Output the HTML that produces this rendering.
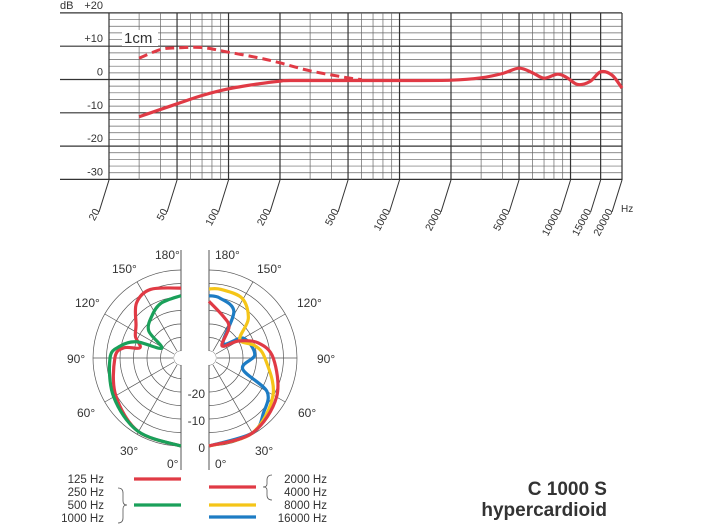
<!DOCTYPE html>
<html><head><meta charset="utf-8"><style>
body{margin:0;background:#fff;}
svg{display:block;font-family:"Liberation Sans",Arial,sans-serif;}
</style></head><body>
<svg id="s" width="706" height="530" viewBox="0 0 706 530">
<g id="freq"></g>
<g id="polar"></g>
<g id="legend"></g>
<text x="607" y="495" text-anchor="end" font-size="19" font-weight="bold" fill="#333">C 1000 S</text>
<text x="607" y="516" text-anchor="end" font-size="19" font-weight="bold" fill="#333">hypercardioid</text>
</svg>
<script>
// ---- frequency response data ----
const freqTicks=[20,50,100,200,500,1000,2000,5000,10000,15000,20000];
const minorFreqs=[30,40,60,70,80,90,300,400,600,700,800,900,3000,4000,6000,7000,8000,9000];
const dbTicks=[20,10,0,-10,-20,-30];
const dbTickLabels=["+20","+10","0","-10","-20","-30"];
const solidFreqs=[30,50,70,100,150,200,230,500,1000,2000,3000,4000,5000,6000,7000,8400,9500,11000,13000,15000,17500,20000];
const solidDb=[-11.2,-7.3,-4.8,-2.8,-1.3,-0.5,-0.3,-0.3,-0.3,-0.2,0.5,1.8,3.4,2.0,0.4,1.6,0.6,-1.5,-0.6,2.3,1.3,-2.6];
const dashFreqs=[30,40,50,70,100,150,200,300,500,600];
const dashDb=[6.4,9.0,9.5,9.6,8.2,6.5,5.0,2.6,0.5,0];
// ---- polar data (angle deg, dB) ----
const red125A=[0,30,60,90,100,104,115,126,141,156,180];
const red125D=[0,-1.1,-4.7,-8.1,-11,-16.9,-14,-12,-6.4,-4.8,-6.7];
const green250A=[0,30,60,90,101,110,117,130,145,160,180];
const green250D=[0,-1.1,-3.8,-6.3,-9.6,-15,-24.6,-17,-13.7,-11,-9.5];
const red2kA=[0,30,60,90,107,120,133,147,161,180];
const red2kD=[0,-0.5,-3.7,-8.8,-13.5,-20,-26,-19,-16.3,-11.6];
const yel8kA=[0,30,60,90,105,121,135,151,170,180];
const yel8kD=[0,-0.5,-5.2,-11.9,-15,-19.3,-12,-7.3,-6.8,-7];
const blue16kA=[0,30,45,60,72,94,120,136,152,170,180];
const blue16kD=[0,-0.5,-4,-7.8,-19.5,-15.6,-17.9,-25,-13,-10,-9.5];

const NS="http://www.w3.org/2000/svg";
function mk(p,t,a,txt){const e=document.createElementNS(NS,t);for(const k in a)e.setAttribute(k,a[k]);if(txt!==undefined)e.textContent=txt;p.appendChild(e);return e;}
const X=f=>109+171*Math.log10(f/20);
const Y=d=>79.5-3.33*d;
const F=document.getElementById('freq');
for(let d=-30;d<=20;d+=2){const major=d%10===0;
 const l=mk(F,'line',{x1:major?60:109,x2:622,y1:Y(d),y2:Y(d),stroke:major?'#333':'#666','stroke-width':major?1.2:0.7});
 
 }
minorFreqs.forEach(f=>{const l=mk(F,'line',{x1:X(f),x2:X(f),y1:13,y2:180,stroke:'#666','stroke-width':0.7});
 
 });
freqTicks.forEach(f=>{const x=X(f);
 const l=mk(F,'line',{x1:x,x2:x,y1:13,y2:180,stroke:'#333','stroke-width':1.2});
 
 
 const s=mk(F,'line',{x1:x,x2:x-10,y1:180,y2:212,stroke:'#333','stroke-width':1});
 
 
 const t=mk(F,'text',{x:x-9,y:211,'font-size':10.5,fill:'#333','text-anchor':'end',transform:`rotate(-62 ${x-9} 211)`},String(f));
 
 });
dbTicks.forEach((d,i)=>{const t=mk(F,'text',{x:103,y:Y(d)-4,'font-size':11,fill:'#333','text-anchor':'end'},dbTickLabels[i]);
 
 });
let t=mk(F,'text',{x:60,y:9,'font-size':11,fill:'#333'},'dB');


t=mk(F,'text',{x:621,y:212,'font-size':10,fill:'#333'},'Hz');


let r=mk(F,'rect',{x:122,y:30,width:36,height:16,fill:'#fff'});


t=mk(F,'text',{x:124,y:43,'font-size':15,fill:'#333'},'1cm');


function cr(pts){let d=`M${pts[0][0]},${pts[0][1]}`;for(let i=0;i<pts.length-1;i++){const p0=pts[i-1]||pts[i],p1=pts[i],p2=pts[i+1],p3=pts[i+2]||p2;
 d+=` C${p1[0]+(p2[0]-p0[0])/6},${p1[1]+(p2[1]-p0[1])/6} ${p2[0]-(p3[0]-p1[0])/6},${p2[1]-(p3[1]-p1[1])/6} ${p2[0]},${p2[1]}`;}return d;}
let p=mk(F,'path',{d:cr(dashFreqs.map((f,i)=>[X(f),Y(dashDb[i])])),fill:'none',stroke:'#e03a45','stroke-width':3,'stroke-dasharray':'9 5'});


p=mk(F,'path',{d:cr(solidFreqs.map((f,i)=>[X(f),Y(solidDb[i])])),fill:'none',stroke:'#e03a45','stroke-width':3.2});



// ---- polar ----
const P=document.getElementById('polar');
const CY=358,R0=88;
function half(cx,side){
 for(let d=0;d>=-30;d-=5){const rr=R0+d*2.7;
  const a=mk(P,'path',{d:`M${cx},${CY-rr} A${rr},${rr} 0 0 ${side>0?1:0} ${cx},${CY+rr}`,fill:'none',stroke:'#555','stroke-width':0.7});
  
  }
 for(let a=30;a<180;a+=30){const th=a*Math.PI/180;
  const l=mk(P,'line',{x1:cx+side*8*Math.sin(th),y1:CY+8*Math.cos(th),x2:cx+side*R0*Math.sin(th),y2:CY+R0*Math.cos(th),stroke:'#555','stroke-width':0.7});
  
  }
 const l=mk(P,'line',{x1:cx,x2:cx,y1:250,y2:470,stroke:'#555','stroke-width':1});
 
 
 const c=mk(P,'circle',{cx:cx,cy:CY,r:7,fill:'#fff'});
 
 }
half(181,-1);half(209,1);
function pcurve(cx,side,A,D,col,name){const pts=A.map((a,i)=>{const th=a*Math.PI/180,rr=R0+D[i]*2.7;return[cx+side*rr*Math.sin(th),CY+rr*Math.cos(th)];});
 const e=mk(P,'path',{d:cr(pts),fill:'none',stroke:col,'stroke-width':3.2,'stroke-linejoin':'round'});
 
 }
pcurve(181,-1,red125A,red125D,'#e03a45','polar-125hz');
pcurve(181,-1,green250A,green250D,'#1aa05a','polar-250-1000hz');
pcurve(209,1,blue16kA,blue16kD,'#1d7cc4','polar-16000hz');
pcurve(209,1,yel8kA,yel8kD,'#f5c518','polar-8000hz');
pcurve(209,1,red2kA,red2kD,'#e03a45','polar-2000-4000hz');
const angLabels=[["180°",155,259,215,259],["150°",112,273,257,273],["120°",75,307,297,307],["90°",67,363,317,363],["60°",77,417,298,417],["30°",120,455,255,455],["0°",167,468,215,468]];
angLabels.forEach(a=>{[[a[1],a[2]],[a[3],a[4]]].forEach(q=>{const e=mk(P,'text',{x:q[0],y:q[1],'font-size':12,fill:'#333'},a[0]);
 
 });});
[["-20",398],["-10",425],["0",452]].forEach(q=>{const e=mk(P,'text',{x:205,y:q[1],'font-size':12,fill:'#333','text-anchor':'end'},q[0]);
 
 });

// ---- legend ----
const L=document.getElementById('legend');
[["125 Hz",483],["250 Hz",496],["500 Hz",509],["1000 Hz",522]].forEach(q=>{const e=mk(L,'text',{x:104,y:q[1],'font-size':11.5,fill:'#333','text-anchor':'end'},q[0]);
 
 });
[["2000 Hz",483],["4000 Hz",496],["8000 Hz",509],["16000 Hz",522]].forEach(q=>{const e=mk(L,'text',{x:327,y:q[1],'font-size':11.5,fill:'#333','text-anchor':'end'},q[0]);
 
 });
[[134,181,479,'#e03a45'],[134,181,505,'#1aa05a'],[209,256,487,'#e03a45'],[209,256,505,'#f5c518'],[209,256,517,'#1d7cc4']].forEach(q=>{const e=mk(L,'line',{x1:q[0],x2:q[1],y1:q[2],y2:q[2],stroke:q[3],'stroke-width':3.2});
 
 });
let b=mk(L,'path',{d:'M118,488 Q123,488 123,493 L123,501 Q123,505 127,505 Q123,505 123,509 L123,518 Q123,523 118,523',fill:'none',stroke:'#555','stroke-width':0.8});


b=mk(L,'path',{d:'M272,475 Q267,475 267,480 L267,484 Q267,487 263,487 Q267,487 267,490 L267,495 Q267,500 272,500',fill:'none',stroke:'#555','stroke-width':0.8});


</script>
</body></html>
